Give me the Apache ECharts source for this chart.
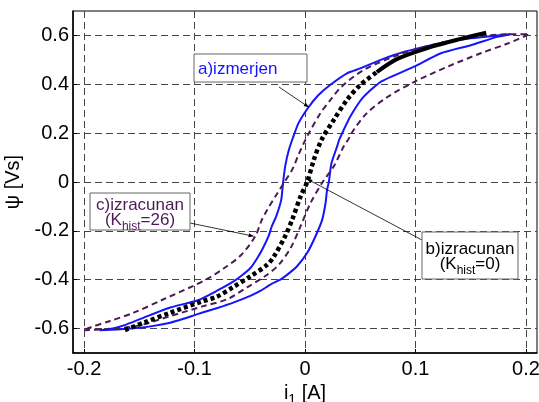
<!DOCTYPE html>
<html>
<head>
<meta charset="utf-8">
<script src="https://cdn.jsdelivr.net/npm/echarts@6/dist/echarts.min.js"></script>
<style>html,body{margin:0;padding:0;background:#fff;}</style>
</head>
<body>
<div id="chart" style="width:539px;height:402px"></div>
<script>
// a) izmerjen - measured loop, ascending branch then descending branch  [i1 (A), psi (Vs)]
const measAsc = [[-0.186,-0.607],[-0.170,-0.604],[-0.152,-0.598],[-0.137,-0.589],[-0.122,-0.576],[-0.110,-0.560],
  [-0.098,-0.542],[-0.086,-0.525],[-0.074,-0.508],[-0.065,-0.494],[-0.049,-0.465],[-0.040,-0.445],[-0.031,-0.419],
  [-0.022,-0.399],[-0.014,-0.372],[-0.007,-0.344],[0.002,-0.290],[0.0095,-0.222],[0.0156,-0.154],[0.0186,-0.086],
  [0.020,-0.031],[0.0216,0.000],[0.023,0.050],[0.024,0.078],[0.029,0.145],[0.031,0.173],[0.035,0.213],[0.041,0.268],
  [0.052,0.343],[0.0685,0.410],[0.0987,0.472],[0.123,0.527],[0.150,0.560],[0.174,0.594],[0.186,0.605]];
const measDesc = [[0.186,0.605],[0.174,0.600],[0.150,0.588],[0.129,0.574],[0.114,0.560],[0.090,0.533],[0.0685,0.500],
  [0.050,0.465],[0.038,0.445],[0.023,0.398],[0.012,0.355],[0.003,0.305],[-0.006,0.240],[-0.011,0.180],[-0.0147,0.130],
  [-0.0177,0.070],[-0.0198,0.000],[-0.0215,-0.072],[-0.026,-0.140],[-0.030,-0.181],[-0.033,-0.222],[-0.038,-0.270],
  [-0.043,-0.310],[-0.049,-0.350],[-0.057,-0.382],[-0.065,-0.408],[-0.080,-0.446],[-0.097,-0.484],[-0.122,-0.514],
  [-0.146,-0.555],[-0.164,-0.587],[-0.174,-0.600],[-0.186,-0.607]];
// b) izracunan, Khist = 0
const calcNoHist = [[-0.163,-0.606],[-0.146,-0.576],[-0.122,-0.535],[-0.094,-0.490],[-0.080,-0.470],[-0.065,-0.430],
  [-0.049,-0.385],[-0.034,-0.338],[-0.028,-0.304],[-0.018,-0.222],[-0.0116,-0.154],[-0.004,-0.059],[0.002,0.000],
  [0.008,0.091],[0.015,0.173],[0.026,0.254],[0.038,0.336],[0.050,0.397],[0.065,0.450],[0.084,0.505],[0.114,0.553],
  [0.140,0.585],[0.164,0.611]];
// c) izracunan, Khist = 26
const calcHistAsc = [[-0.200,-0.607],[-0.183,-0.603],[-0.152,-0.589],[-0.122,-0.549],[-0.092,-0.508],[-0.0706,-0.480],
  [-0.052,-0.430],[-0.036,-0.385],[-0.024,-0.340],[-0.013,-0.270],[-0.004,-0.181],[0.005,-0.086],[0.016,0.000],
  [0.026,0.064],[0.035,0.145],[0.039,0.173],[0.044,0.213],[0.056,0.282],[0.075,0.349],[0.099,0.410],[0.129,0.472],
  [0.159,0.527],[0.1835,0.567],[0.203,0.605]];
const calcHistDesc = [[0.203,0.605],[0.185,0.605],[0.165,0.600],[0.150,0.594],[0.114,0.560],[0.084,0.520],[0.053,0.458],
  [0.033,0.390],[0.023,0.336],[0.014,0.282],[0.0035,0.200],[-0.001,0.160],[-0.006,0.110],[-0.0116,0.050],[-0.0186,0.000],
  [-0.027,-0.060],[-0.034,-0.113],[-0.039,-0.154],[-0.045,-0.222],[-0.058,-0.300],[-0.074,-0.355],[-0.086,-0.390],
  [-0.101,-0.425],[-0.128,-0.480],[-0.155,-0.535],[-0.1765,-0.569],[-0.195,-0.596],[-0.200,-0.607]];

const xTicks = [-0.2, -0.1, 0, 0.1, 0.2];
const yTicks = [-0.6, -0.4, -0.2, 0, 0.2, 0.4, 0.6];

const FONT = 'Liberation Sans';
const PURPLE = '#4d1a57';
const BLUE = '#1414ff';

// text boxes (pixel layout) with arrow tips given in data coords
const notes = [
  { x: 194, y: 54, w: 113, h: 28, color: BLUE, align: 'left', lines: ['a)izmerjen'], sub: null,
    from: [279, 87], tip: [0.0035, 0.306] },
  { x: 90, y: 193, w: 100, h: 37, color: PURPLE, align: 'center', lines: ['c)izracunan'], sub: ['(K', 'hist', '=26)'],
    from: [190, 223], tip: [-0.0465, -0.222] },
  { x: 422, y: 232, w: 96, h: 47, color: '#000', align: 'center', lines: ['b)izracunan'], sub: ['(K', 'hist', '=0)'],
    from: [422, 240], tip: [0.002, 0.012] }
];

const chart = echarts.init(document.getElementById('chart'));

const gridLine = { show: true, lineStyle: { color: '#444', type: [7, 4], width: 1 } };

// dotted line looks solid where points are dense (upper right end)
const solidFrom = calcNoHist.findIndex(p => p[0] >= 0.065);

chart.setOption({
  animation: false,
  backgroundColor: '#fff',
  grid: { left: 73, right: 2, top: 11, bottom: 49, show: true, borderColor: '#000', borderWidth: 1,
    containLabel: false, outerBoundsMode: 'none' },
  xAxis: {
    type: 'value', min: -0.21, max: 0.21,
    name: '{n|i}{s|1}{n| [A]}', nameLocation: 'middle', nameGap: 26,
    nameTextStyle: { rich: {
      n: { fontFamily: FONT, fontSize: 20, color: '#000', verticalAlign: 'top', lineHeight: 20 },
      s: { fontFamily: FONT, fontSize: 14, color: '#000', verticalAlign: 'top', lineHeight: 14, padding: [9, 0, 0, 0] }
    } },
    axisLine: { onZero: false, lineStyle: { color: '#000', width: 1.5 } },
    axisTick: { show: true, inside: true, length: 4, customValues: xTicks, lineStyle: { color: '#000' } },
    axisLabel: { customValues: xTicks, fontFamily: FONT, fontSize: 20, color: '#000', margin: 6 },
    splitLine: gridLine
  },
  yAxis: {
    type: 'value', min: -0.7, max: 0.7,
    name: 'ψ [Vs]', nameLocation: 'middle', nameGap: 42,
    nameTextStyle: { fontFamily: FONT, fontSize: 20, color: '#000' },
    axisLine: { onZero: false, lineStyle: { color: '#000', width: 1.5 } },
    axisTick: { show: true, inside: true, length: 4, customValues: yTicks, lineStyle: { color: '#000' } },
    axisLabel: { customValues: yTicks, fontFamily: FONT, fontSize: 20, color: '#000', margin: 4 },
    splitLine: gridLine
  },
  series: [
    { name: 'a)izmerjen', type: 'line', data: measAsc.concat(measDesc.slice(1)), showSymbol: false, smooth: 0.2,
      lineStyle: { color: BLUE, width: 2 }, z: 3 },
    { name: 'c)izracunan', type: 'line', data: calcHistAsc.concat(calcHistDesc.slice(1)), showSymbol: false, smooth: 0.3,
      lineStyle: { color: PURPLE, width: 2, type: [6, 4] }, z: 4 },
    { name: 'b)izracunan', type: 'line', data: calcNoHist.slice(0, solidFrom + 1), showSymbol: false, smooth: 0.3,
      lineStyle: { color: '#000', width: 4.5, type: [4, 3] }, z: 5 },
    { name: 'b)izracunan', type: 'line', data: calcNoHist.slice(solidFrom), showSymbol: false, smooth: 0.3,
      lineStyle: { color: '#000', width: 4 }, z: 5 }
  ]
});

function noteText(n) {
  let t = n.lines.map(l => '{n|' + l + '}').join('\n');
  if (n.sub) t += '\n{n|' + n.sub[0] + '}{s|' + n.sub[1] + '}{n|' + n.sub[2] + '}';
  return t;
}

const els = [];
notes.forEach(n => {
  const tip = chart.convertToPixel({ gridIndex: 0 }, n.tip);
  els.push({ type: 'line', z: 20, shape: { x1: n.from[0], y1: n.from[1], x2: tip[0], y2: tip[1] },
    style: { stroke: '#000', lineWidth: 0.8 } });
  // small arrow head
  const dx = tip[0] - n.from[0], dy = tip[1] - n.from[1];
  const len = Math.sqrt(dx * dx + dy * dy), ux = dx / len, uy = dy / len, hl = 5, hw = 2;
  els.push({ type: 'polygon', z: 20, shape: { points: [
    [tip[0], tip[1]],
    [tip[0] - ux * hl - uy * hw, tip[1] - uy * hl + ux * hw],
    [tip[0] - ux * hl + uy * hw, tip[1] - uy * hl - ux * hw]] },
    style: { fill: '#000' } });
  els.push({ type: 'rect', z: 21, shape: { x: n.x, y: n.y, width: n.w, height: n.h },
    style: { fill: '#fff', stroke: '#666', lineWidth: 1 } });
  els.push({ type: 'text', z: 22,
    x: n.align === 'left' ? n.x + 4 : n.x + n.w / 2, y: n.y + n.h / 2,
    style: { text: noteText(n), align: n.align, verticalAlign: 'middle', fill: n.color,
      rich: {
        n: { fontFamily: FONT, fontSize: 17, fill: n.color, lineHeight: 15, verticalAlign: 'top' },
        s: { fontFamily: FONT, fontSize: 12, fill: n.color, lineHeight: 12, verticalAlign: 'top', padding: [9, 0, 0, 0] }
      } } });
});
chart.setOption({ graphic: els });
</script>
</body>
</html>
